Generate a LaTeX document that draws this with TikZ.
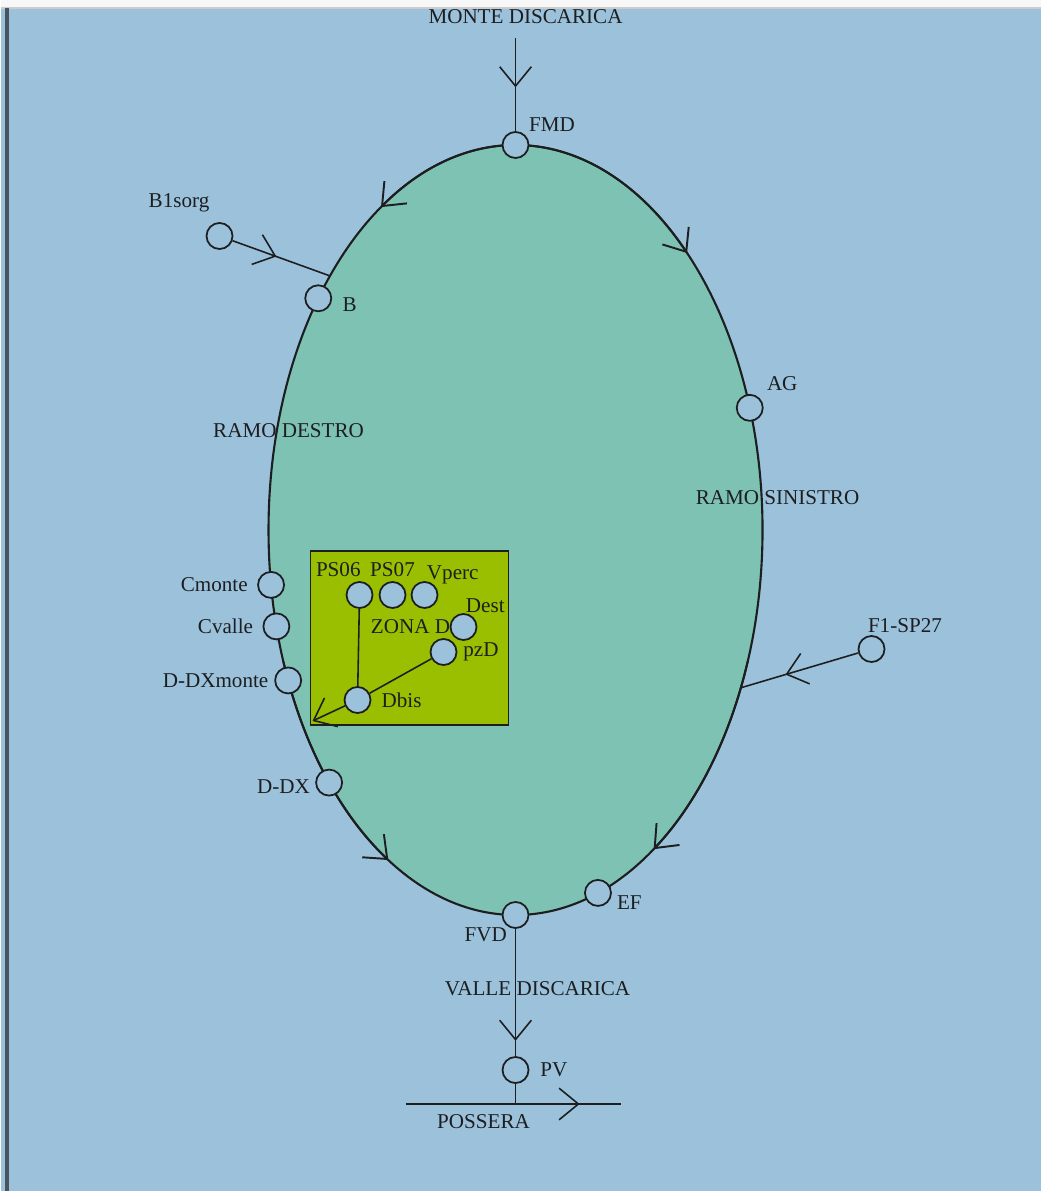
\documentclass[tikz,border=0pt]{standalone}
\usepackage{fontspec}
\setmainfont{Liberation Serif}
\usetikzlibrary{
    arrows.meta,
    positioning,
    calc,
    decorations.markings
}

\definecolor{skyblue}{RGB}{156,194,219}
\definecolor{lakegreen}{RGB}{126,194,179}
\definecolor{zonegreen}{RGB}{153,191,0}
\definecolor{inkgrey}{RGB}{28,30,32}
\definecolor{barslate}{RGB}{72,84,96}

\begin{document}
\begin{tikzpicture}[
    x=0.01cm, y=0.01cm,
    >={Straight Barb[length=5.5pt,width=9pt]},
    station/.style={circle, draw=inkgrey, line width=0.5pt, fill=skyblue,
                    minimum size=7.4pt, inner sep=0pt},
    lbl/.style={font=\fontsize{6}{7}\selectfont, text=inkgrey, inner sep=0.5pt},
    every label/.style={lbl},
    label distance=2pt,
    pipe/.style={draw=inkgrey, line width=0.45pt},
    midflow/.style={pipe, postaction={decorate},
                    decoration={markings, mark=at position #1 with {\arrow{>}}}}
]

    % Page and frame
    \fill[skyblue] (-515,-661) rectangle (525,530);
    \fill[white!97!black] (-515,522) rectangle (525,530);
    \draw[black!20, line width=0.3pt] (-515,522) -- (525,522);
    \fill[barslate] (-511,-661) rectangle (-507,522);

    % Landfill body
    \draw[inkgrey, line width=0.6pt, fill=lakegreen] (0,0) ellipse [x radius=247, y radius=385];
    \foreach \a/\b in {90/123, 90/46, 200/239, -20/-56}
        \draw[pipe, line width=0.55pt, ->] (\a:247 and 385)
            arc[start angle=\a, end angle=\b, x radius=247, y radius=385];

    % Zone D
    \draw[inkgrey, line width=0.5pt, fill=zonegreen] (-205,-21) rectangle (-7,-195);
    \node[lbl] (zonaD) at (-105,-97) {ZONA D};

    % Stations on the ring
    \node (FMD) [station, label={[anchor=south west, label distance=0.5pt]north east:FMD}] at (90:247 and 385) {};
    \node (B) [station, label={[anchor=west, label distance=2.5pt]-15:B}] at (143:247 and 385) {};
    \node (Cmonte) [station, label={[anchor=east]west:Cmonte}] at (188.2:247 and 385) {};
    \node (Cvalle) [station, label={[anchor=east]west:Cvalle}] at (194.5:247 and 385) {};
    \node (DDXmonte) [station, label={[anchor=east, label distance=1pt]west:D-DXmonte}] at (203:247 and 385) {};
    \node (DDX) [station, label={[anchor=east, label distance=1pt]195:D-DX}] at (221:247 and 385) {};
    \node (FVD) [station, label={[anchor=north east, label distance=0pt, xshift=1pt]south west:FVD}] at (270:247 and 385) {};
    \node (EF) [station, label={[anchor=west, label distance=1.5pt]-30:EF}] at (289.5:247 and 385) {};
    \node (AG) [station, label={[anchor=south west, label distance=2pt]north east:AG}] at (18.5:247 and 385) {};

    % Outside stations
    \node (B1sorg) [station, label={[anchor=south east, label distance=2.5pt]110:B1sorg}] at (-296,294) {};
    \node (F1SP27) [station, label={[anchor=south west, label distance=0pt, xshift=-1.7pt]north:F1-SP27}] at (356,-119) {};
    \node (PV) [station, label={[anchor=west, label distance=2.4pt]east:PV}] at (0,-540) {};

    % Stations in zone D
    \node (PS06) [station, label={[anchor=south east, label distance=0.5pt, xshift=1pt]north:PS06}] at (-156,-65) {};
    \node (PS07) [station, label={[label distance=0.5pt]north:PS07}] at (-123,-65) {};
    \node (Vperc) [station, label={[anchor=south west, label distance=0pt, yshift=-1.5pt]north:Vperc}] at (-91,-65) {};
    \node (Dest) [station, label={[anchor=south west, label distance=0pt, yshift=-0.5pt]north:Dest}] at (-52,-97) {};
    \node (pzD) [station, label={[anchor=west, label distance=1pt]east:pzD}] at (-72,-122) {};
    \node (Dbis) [station, label={[anchor=west, label distance=2.2pt]east:Dbis}] at (-158,-170) {};

    % Connection points
    \coordinate (montein) at (0,492);
    \coordinate (Bin) at (138.7:247 and 385);
    \coordinate (F1in) at (-24.2:247 and 385);
    \coordinate (zoneout) at (-203,-191);
    \coordinate (possL) at (-110,-574);
    \coordinate (possR) at (105,-574);
    \coordinate (possJ) at (0,-574);

    % Texts
    \node[lbl] (monte) at (10,513) {MONTE DISCARICA};
    \node[lbl] (ramoDX) at (-227,99) {RAMO DESTRO};
    \node[lbl] (ramoSX) at (262,32) {RAMO SINISTRO};
    \node[lbl] (valle) at (22,-459) {VALLE DISCARICA};
    \node[lbl] (possera) at (-32,-592) {POSSERA};

    % Connections
    \draw [midflow=0.53] (montein) -- (FMD);
    \draw [midflow=0.45] (B1sorg) -- (Bin);
    \draw [midflow=0.62] (F1SP27) -- (F1in);
    \draw [pipe] (PS06) -- (Dbis);
    \draw [pipe] (pzD) -- (Dbis);
    \draw [pipe, ->] (Dbis) -- (zoneout);
    \draw [midflow=0.88] (FVD) -- (PV);
    \draw [pipe] (PV) -- (possJ);
    \draw [midflow=0.81] (possL) -- (possR);

\end{tikzpicture}
\end{document}
